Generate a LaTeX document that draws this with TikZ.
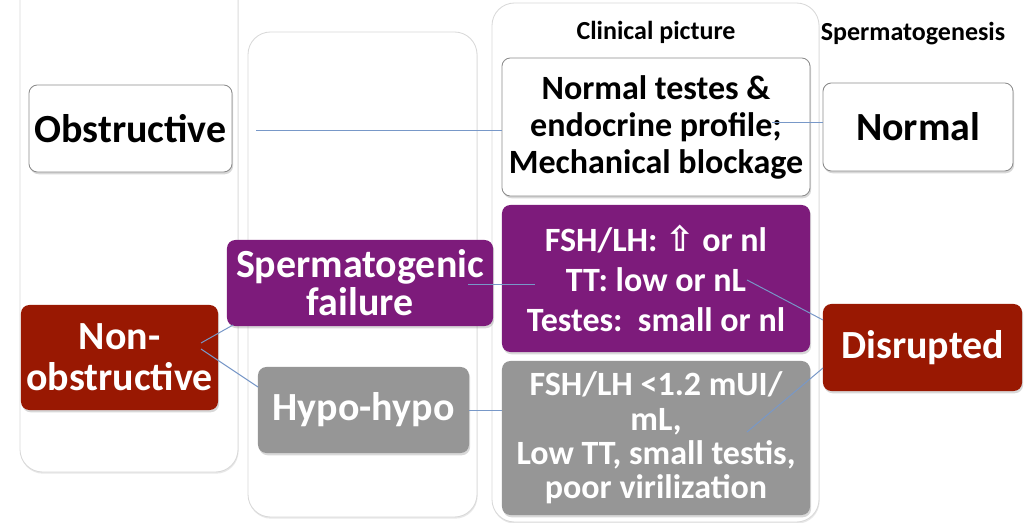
\documentclass[tikz,border=0pt]{standalone}
\usepackage{fontspec}
\setmainfont{Carlito}
\newfontfamily\arrowfont{DejaVu Sans}
\usetikzlibrary{shadows}

\definecolor{boxpurple}{RGB}{125,27,123}
\definecolor{boxred}{RGB}{153,24,2}
\definecolor{boxgrey}{RGB}{150,150,150}
\definecolor{linkblue}{RGB}{120,152,200}

\tikzset{
  lane/.style={draw=black!15, fill=white, line width=0.6pt, rounded corners=16pt,
    drop shadow={shadow xshift=0.4pt, shadow yshift=-1.2pt, opacity=0.18}},
  card/.style={rounded corners=6pt, inner sep=0pt, align=center,
    drop shadow={shadow xshift=0.8pt, shadow yshift=-1.6pt, opacity=0.3}},
  whitecard/.style={card, draw=black!45, fill=white, text=black, line width=0.6pt},
  redcard/.style={card, fill=boxred, text=white},
  purplecard/.style={card, fill=boxpurple, text=white},
  greycard/.style={card, fill=boxgrey, text=white},
  head/.style={font=\bfseries\fontsize{18.5}{20}\selectfont},
  bigtext/.style={font=\bfseries\fontsize{28.4}{#1}\selectfont},
  link/.style={draw=linkblue, line width=0.7pt}
}

\begin{document}
\begin{tikzpicture}[x=0.025cm, y=-0.025cm]
    \clip (0,0) rectangle (1024,523);
    \fill[white] (0,0) rectangle (1024,523);

    % Background lanes
    \draw[lane] (20,-30) rectangle (238,472);
    \draw[lane] (248,32) rectangle (477,517);
    \draw[lane] (492,3) rectangle (819,522);

    % Column headings
    \node[head] (clinhead) at (656,32) {Clinical picture};
    \node[head] (spermhead) at (913,34) {Spermatogenesis};

    % Type of azoospermia
    \node[whitecard, bigtext=29, minimum width=5.075cm, minimum height=2.175cm]
        (obs) at (130.5,128.5) {Obstructive};
    \node[redcard, bigtext=29, minimum width=4.925cm, minimum height=2.625cm]
        (nonobs) at (119.5,357.5) {Non-\\obstructive};

    % Cause
    \node[purplecard, bigtext=27, minimum width=6.65cm, minimum height=2.15cm]
        (spfail) at (360,283) {Spermatogenic\\failure};
    \node[greycard, bigtext=29, minimum width=5.275cm, minimum height=2.15cm]
        (hypo) at (363.5,410) {Hypo-hypo};

    % Clinical picture
    \node[whitecard, font=\bfseries\fontsize{24.2}{26.3}\selectfont,
        minimum width=7.7cm, minimum height=3.45cm] (clin1) at (656,127)
        {Normal testes \&\\endocrine profile;\\Mechanical blockage};
    \node[purplecard, font=\bfseries\fontsize{24.2}{28.4}\selectfont,
        minimum width=7.7cm, minimum height=3.675cm] (clin2) at (656,278.5)
        {FSH/LH: {\arrowfont\bfseries\fontsize{25}{25}\selectfont ⇧} or nl\\TT: low or nL\\Testes:\ \ small or nl};
    \node[greycard, font=\bfseries\fontsize{24.2}{24.5}\selectfont,
        minimum width=7.7cm, minimum height=3.85cm] (clin3) at (656,438)
        {FSH/LH <1.2 mUI/\\mL,\\Low TT, small testis,\\poor virilization};

    % Spermatogenesis
    \node[whitecard, bigtext=29, minimum width=4.75cm, minimum height=2.2cm]
        (normal) at (918,127) {Normal};
    \node[redcard, bigtext=29, minimum width=4.975cm, minimum height=2.175cm]
        (disr) at (922.5,347.5) {Disrupted};

    % Connector ends
    \coordinate (obsout) at (256,130);
    \coordinate (clin1out) at (772,122);
    \coordinate (nonobsup) at (201,343);
    \coordinate (nonobsdown) at (201,349);
    \coordinate (spfailin) at (233,325);
    \coordinate (hypoin) at (258,387);
    \coordinate (spfailout) at (468,284);
    \coordinate (clin2in) at (535,284);
    \coordinate (clin2out) at (747,280);
    \coordinate (clin3out) at (747,432);
    \coordinate (disrup) at (823,320);
    \coordinate (disrdown) at (823,368);

    % Connectors
    \draw[link] (obsout) -- (obsout -| clin1.west);
    \draw[link] (clin1out) -- (clin1out -| normal.west);
    \draw[link] (nonobsup) -- (spfailin);
    \draw[link] (nonobsdown) -- (hypoin);
    \draw[link] (spfailout) -- (clin2in);
    \draw[link] (hypo.east) -- (hypo.east -| clin3.west);
    \draw[link] (clin2out) -- (disrup);
    \draw[link] (clin3out) -- (disrdown);
\end{tikzpicture}
\end{document}
